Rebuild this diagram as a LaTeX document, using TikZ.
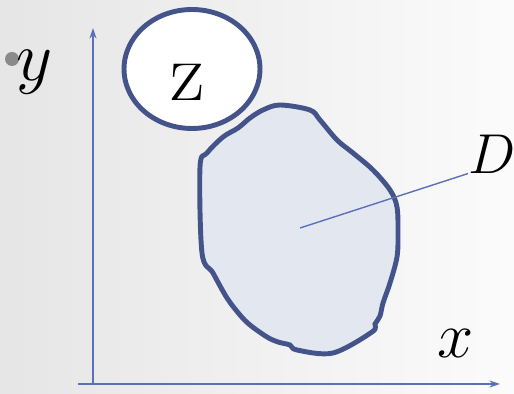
\documentclass[tikz,border=0pt]{standalone}
\usepackage{fix-cm}
\usepackage{tikz}
\usetikzlibrary{arrows.meta}
\usetikzlibrary{shapes.geometric}

\definecolor{axisblue}{HTML}{5A70B8}
\definecolor{rimblue}{HTML}{44548A}
\definecolor{regionfill}{HTML}{E3E8F0}
\definecolor{dotgray}{HTML}{8A8A8A}

\begin{document}
\begin{tikzpicture}[
		x=0.02cm, y=-0.02cm,
		axis/.style={
			draw=axisblue,
			line width=0.9pt,
			-{Stealth[length=6pt,width=4pt]}
		},
		rim/.style={
			draw=rimblue,
			line width=2.8pt
		},
		mathlabel/.style={
			inner sep=0pt,
			font=\fontsize{40}{42}\selectfont
		},
		leader/.style={
			draw=axisblue,
			line width=0.8pt
		}
		]
		
		% Background
		\useasboundingbox (0,0) rectangle (514,394);
		\shade[left color=gray!20, right color=gray!3] (0,0) rectangle (514,394);
		
		% Axes
		\coordinate (origin) at (93,384);
		\coordinate (ytip) at (93,28);
		\coordinate (xtail) at (78,384);
		\coordinate (xtip) at (500,384);
		\draw[axis] (origin) -- (ytip);
		\draw[axis] (xtail) -- (xtip);
		
		% Region D
		\draw[rim, fill=regionfill] plot[smooth cycle, tension=0.55] coordinates {
			(280,105) (310,110) (320,120) (337,140) (353,153) (373,170)
			(390,190) (397,207) (398,233) (397,257) (390,283) (383,303)
			(380,316) (375,324) (372,332) (333,353) (297,350) (290,345)
			(278,342) (267,337) (250,325) (240,315) (227,298) (213,273)
			(202,253) (200,167) (207,153) (223,137) (238,128) (250,118)
			(263,110)};
		
		% Disc Z
		\node[rim, fill=white, ellipse, minimum width=2.72cm, minimum height=2.38cm,
			inner sep=0pt] (zdisc) at (192,69) {};
		\node[inner sep=0pt, font=\fontsize{48}{50}\selectfont] (zlab) at (188,82) {z};
		
		% Labels
		\fill[dotgray] (12,59) circle (7);
		\node[mathlabel] (ylab) at (35,72) {$y$};
		\node[mathlabel, font=\fontsize{37}{39}\selectfont] (xlab) at (456,344) {$x$};
		\node[mathlabel, font=\fontsize{32}{34}\selectfont] (Dlab) at (492,154) {$D$};
		
		% Leader to D
		\coordinate (Dcore) at (300,228);
		\draw[leader] (Dcore) -- (Dlab.south west);
		
	\end{tikzpicture}
\end{document}
